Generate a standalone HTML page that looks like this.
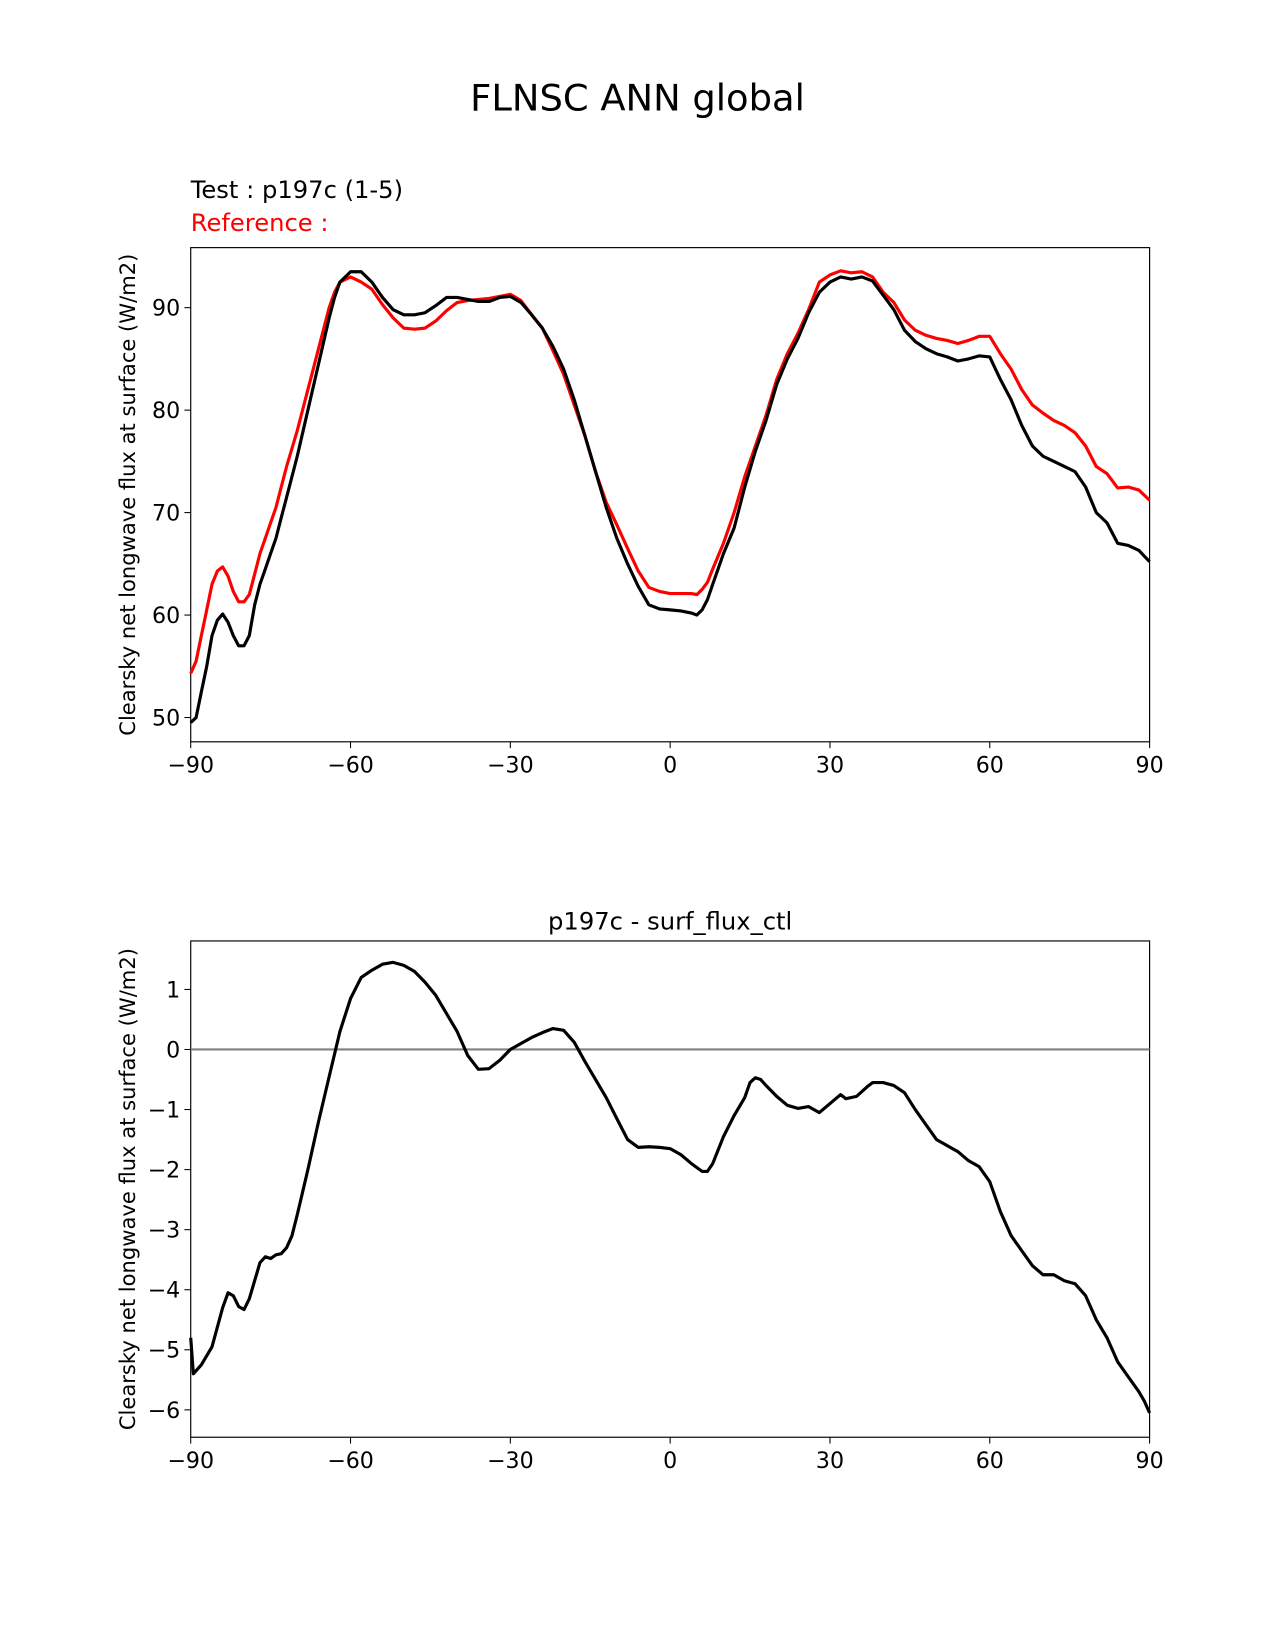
<!DOCTYPE html>
<html><head><meta charset="utf-8">
<style>
body{margin:0;background:#fff}
svg{display:block;font-family:"DejaVu Sans","Liberation Sans",sans-serif}
</style></head>
<body>
<svg id="chart" width="1275" height="1650" viewBox="0 0 1275 1650">
<g transform="scale(1.0537)">
<text x="605" y="105" font-size="35" text-anchor="middle">FLNSC ANN global</text>
<text x="181" y="188" font-size="23">Test : p197c (1-5)</text>
<text x="181" y="219" font-size="23" fill="#ff0000">Reference :</text>
<g id="topPanel"></g>
<g id="botPanel"></g>
</g>
</svg>
<script>
const lats1 = [-90,-89,-88,-87,-86,-85,-84,-83,-82,-81,-80,-79,-78,-77,-76,-75,-74,-73,-72,-70,-68,-66,-64,-63,-62,-60,-58,-56,-54,-52,-50,-48,-46,-44,-42,-40,-38,-36,-34,-32,-30,-28,-26,-24,-22,-20,-18,-16,-14,-12,-10,-8,-6,-4,-2,0,2,4,5,6,7,8,10,12,14,16,18,20,22,24,26,28,30,32,34,36,38,40,42,44,46,48,50,52,54,56,58,60,62,64,66,68,70,72,74,76,78,80,82,84,86,88,90];
const testVals = [49.5,50,52.5,55,58,59.5,60.1,59.3,58,57,57,58,61,63,64.5,66,67.5,69.5,71.5,75.5,80,84.5,89,91,92.5,93.5,93.5,92.5,91,89.8,89.3,89.3,89.5,90.2,91,91,90.8,90.6,90.6,91,91.1,90.5,89.3,88,86.2,84,81,77.5,74,70.5,67.5,65,62.8,61,60.6,60.5,60.4,60.2,60,60.5,61.5,63,66,68.5,72.5,76,79,82.5,85,87,89.5,91.5,92.5,93,92.8,93,92.6,91.2,89.8,87.8,86.7,86,85.5,85.2,84.8,85,85.3,85.2,83,81,78.5,76.5,75.5,75,74.5,74,72.5,70,69,67,66.8,66.3,65.2];
const refVals = [54.3,55.5,58,60.5,63,64.3,64.7,63.8,62.3,61.3,61.3,62,64,66,67.5,69,70.5,72.5,74.5,78,82,86,90,91.5,92.5,93,92.5,91.8,90.3,89,88,87.9,88,88.7,89.7,90.5,90.7,90.8,90.9,91.1,91.3,90.7,89.3,88,85.8,83.5,80.5,77.5,74,71,68.8,66.5,64.3,62.7,62.3,62.1,62.1,62.1,62,62.5,63.2,64.5,67,70,73.5,76.5,79.5,83,85.5,87.5,89.8,92.5,93.2,93.6,93.4,93.5,93,91.5,90.5,88.8,87.8,87.3,87,86.8,86.5,86.8,87.2,87.2,85.5,84,82,80.5,79.7,79,78.5,77.8,76.5,74.5,73.8,72.4,72.5,72.2,71.2];
const lats2 = [-90,-89.5,-88,-86,-84,-83,-82,-81,-80,-79,-77,-76,-75,-74,-73,-72,-71,-70,-68,-66,-64,-62,-60,-58,-56,-54,-52,-50,-48,-46,-44,-42,-40,-38,-36,-34,-32,-30,-28,-26,-24,-22,-20,-18,-16,-14,-12,-10,-8,-6,-4,-2,0,2,4,6,7,8,10,12,14,15,16,17,18,20,22,24,26,28,30,32,33,35,37,38,40,42,44,46,48,50,52,54,56,58,60,62,64,66,68,70,72,74,76,78,80,82,84,86,88,89,90];
const diffVals = [-4.8,-5.4,-5.25,-4.95,-4.3,-4.05,-4.1,-4.28,-4.33,-4.15,-3.55,-3.45,-3.48,-3.42,-3.4,-3.3,-3.1,-2.75,-2.0,-1.2,-0.45,0.3,0.85,1.2,1.32,1.42,1.45,1.4,1.3,1.12,0.9,0.6,0.3,-0.1,-0.33,-0.32,-0.18,0,0.1,0.2,0.28,0.35,0.32,0.12,-0.2,-0.5,-0.8,-1.15,-1.5,-1.63,-1.62,-1.63,-1.65,-1.75,-1.9,-2.03,-2.03,-1.9,-1.45,-1.1,-0.8,-0.55,-0.47,-0.5,-0.6,-0.78,-0.93,-0.98,-0.95,-1.05,-0.9,-0.75,-0.82,-0.78,-0.62,-0.55,-0.55,-0.6,-0.72,-1.0,-1.25,-1.5,-1.6,-1.7,-1.85,-1.95,-2.2,-2.7,-3.1,-3.35,-3.6,-3.75,-3.75,-3.85,-3.9,-4.1,-4.5,-4.8,-5.2,-5.45,-5.7,-5.85,-6.05];
const xTicks = [-90,-60,-30,0,30,60,90];
const xTickLabels = ["\u221290","\u221260","\u221230","0","30","60","90"];
const yTicks1 = [50,60,70,80,90];
const yTicks2 = [1,0,-1,-2,-3,-4,-5,-6];

const NS="http://www.w3.org/2000/svg";
function mk(parent,tag,attrs){const e=document.createElementNS(NS,tag);for(const k in attrs)e.setAttribute(k,attrs[k]);parent.appendChild(e);return e;}
function lab(v){return v<0?"\u2212"+Math.abs(v):String(v);}

function panel(g,L,T,R,B,ymin,ymax,yt,yLabel){
  const sx=v=>L+(v+90)/180*(R-L);
  const sy=v=>B-(v-ymin)/(ymax-ymin)*(B-T);
  const frame=mk(g,"rect",{x:L,y:T,width:R-L,height:B-T,fill:"none",stroke:"#000","stroke-width":1.1});
  
  
  xTicks.forEach((t,i)=>{
    const tk=mk(g,"line",{x1:sx(t),x2:sx(t),y1:B,y2:B+6,stroke:"#000","stroke-width":1});
    
    
    const tx=mk(g,"text",{x:sx(t),y:B+29,"font-size":21,"text-anchor":"middle"});
    tx.textContent=xTickLabels[i];
    
    
  });
  yt.forEach(t=>{
    const tk=mk(g,"line",{x1:L-6,x2:L,y1:sy(t),y2:sy(t),stroke:"#000","stroke-width":1});
    
    
    const tx=mk(g,"text",{x:L-10,y:sy(t)+7.5,"font-size":21,"text-anchor":"end"});
    tx.textContent=lab(t);
    
    
  });
  const cy=(T+B)/2;
  const yl=mk(g,"text",{x:128,y:cy,"font-size":20,"text-anchor":"middle",transform:`rotate(-90 128 ${cy})`});
  yl.textContent=yLabel;
  
  
  return {sx,sy};
}
function drawLine(g,a,xs,ys,color,name){
  const d=xs.map((x,i)=>(i?"L":"M")+a.sx(x).toFixed(1)+" "+a.sy(ys[i]).toFixed(1)).join(" ");
  const p=mk(g,"path",{d:d,fill:"none",stroke:color,"stroke-width":3,"stroke-linejoin":"round"});
  
  
}
const yLabelText="Clearsky net longwave flux at surface (W/m2)";
const topPanel=document.getElementById("topPanel");
const a1=panel(topPanel,181,235,1091,704,47.63,95.86,yTicks1,yLabelText);
drawLine(topPanel,a1,lats1,refVals,"#ff0000","reference-line");
drawLine(topPanel,a1,lats1,testVals,"#000000","test-line");

const botPanel=document.getElementById("botPanel");
const a2=panel(botPanel,181,893,1091,1364,-6.456,1.807,yTicks2,yLabelText);
const z=mk(botPanel,"line",{x1:181,x2:1091,y1:a2.sy(0),y2:a2.sy(0),stroke:"#808080","stroke-width":2});


drawLine(botPanel,a2,lats2,diffVals,"#000000","difference-line");
const bt=mk(botPanel,"text",{x:636,y:882,"font-size":23,"text-anchor":"middle"});
bt.textContent="p197c - surf_flux_ctl";


</script>
</body></html>
